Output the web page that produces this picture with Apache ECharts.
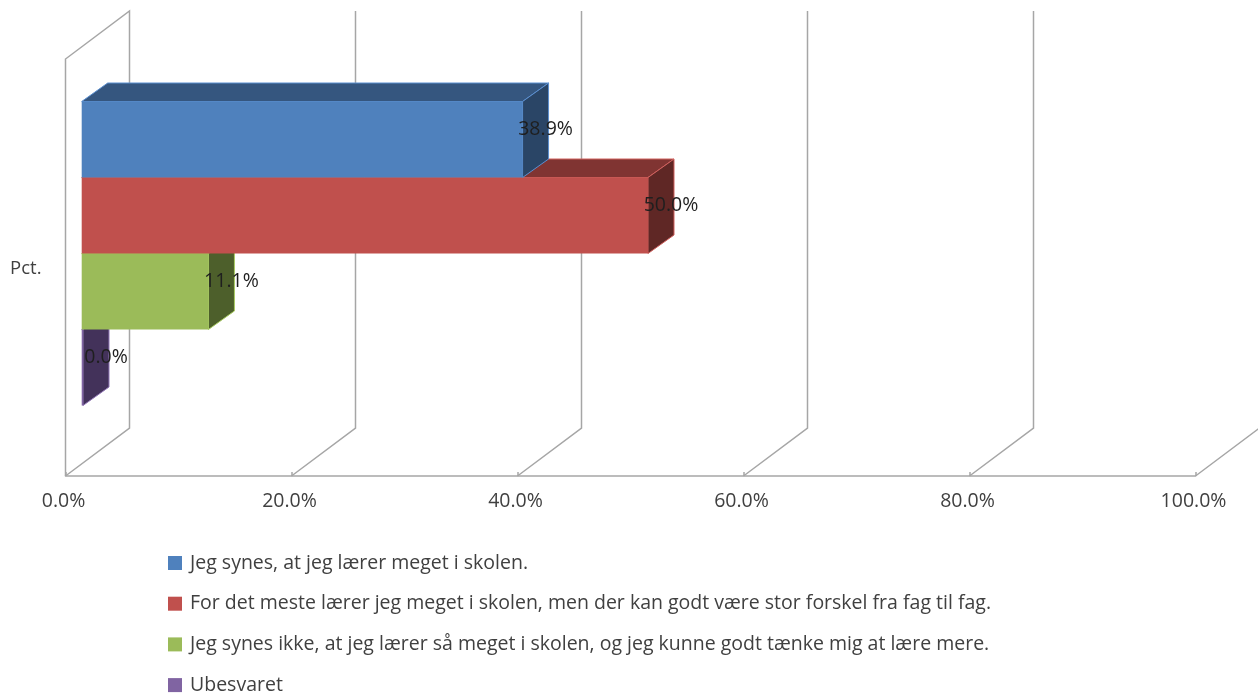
<!DOCTYPE html>
<html><head><meta charset="utf-8">
<style>html,body{margin:0;padding:0;background:#fff}#c{width:1258px;height:697px}</style>
<script src="https://cdn.jsdelivr.net/npm/echarts@6/dist/echarts.min.js"></script>
</head><body><div id="c"></div>
<script>
const categories = ['Pct.'];
const seriesNames = [
  'Jeg synes, at jeg lærer meget i skolen.',
  'For det meste lærer jeg meget i skolen, men der kan godt være stor forskel fra fag til fag.',
  'Jeg synes ikke, at jeg lærer så meget i skolen, og jeg kunne godt tænke mig at lære mere.',
  'Ubesvaret'
];
const seriesValues = [[38.9], [50.0], [11.1], [0.0]];
const tickValues = [0, 20, 40, 60, 80, 100];
const faceColors = ['#4f81bd', '#c0504d', '#9bbb59', '#8064a2'];
const topColors = ['#35567f', '#803432', '#67803a', '#55416f'];
const sideColors = ['#2a4566', '#5f2725', '#4d5f2b', '#43325a'];
const edgeColors = ['#5b8fd0', '#d0605d', '#a9cc62', '#9176b6'];

const FONT = '"Open Sans", "Noto Sans", sans-serif';
const WALL = '#a6a6a6';
const chart = echarts.init(document.getElementById('c'), null, {renderer: 'canvas'});

function wallItem(params, api) {
  const v = api.value(0);
  const base = api.coord([v, 0]);
  const band = api.size([0, 1])[1];
  const x = base[0], yB = base[1] + band / 2, yT = base[1] - band / 2;
  const dx = 64, dy = -48;
  const pts = [[x, yB], [x + dx, yB + dy], [x + dx, yT + dy]];
  if (params.dataIndex === 0) pts.push([x, yT], [x, yB]);
  return {type: 'polyline', shape: {points: pts},
    style: {stroke: WALL, fill: null, lineWidth: 1.5}};
}

function barItem(i) {
  return function (params, api) {
    const v = api.value(0);
    const c0 = api.coord([0, 0]);
    const cv = api.coord([v, 0]);
    const band = api.size([0, 1])[1];
    const h = band * 76 / 417;
    const top = c0[1] - 14 - 2 * h + i * h;
    const x0 = c0[0] + 16.2, x1 = cv[0] + 17.5, y0 = top, y1 = top + h;
    const dx = 26, dy = -18.5;
    const edge = {stroke: edgeColors[i], lineWidth: 1};
    const poly = (pts, fill) => ({type: 'polygon', shape: {points: pts},
      style: Object.assign({fill}, edge)});
    return {type: 'group', children: [
      poly([[x0, y0], [x0 + dx, y0 + dy], [x1 + dx, y0 + dy], [x1, y0]], topColors[i]),
      poly([[x1, y0], [x1 + dx, y0 + dy], [x1 + dx, y1 + dy], [x1, y1]], sideColors[i]),
      {type: 'rect', shape: {x: x0, y: y0, width: x1 - x0, height: h},
        style: {fill: faceColors[i]}},
      {type: 'text', z2: 50,
        style: {text: v.toFixed(1) + '%', x: x1 + 23, y: (y0 + y1) / 2 - 10.5,
          align: 'center', verticalAlign: 'middle',
          fill: '#1f1f1f', font: '19.5px ' + FONT}}
    ]};
  };
}

const series = [{
  type: 'custom', name: 'walls', z: 1, silent: true,
  renderItem: wallItem, encode: {x: 0, y: 1},
  data: tickValues.map(v => [v, 0])
}].concat(seriesNames.map((name, i) => ({
  type: 'custom', name, z: 5 + (seriesNames.length - i),
  itemStyle: {color: faceColors[i]},
  renderItem: barItem(i), encode: {x: 0, y: 1},
  data: seriesValues[i].map((v, k) => [v, k])
})));

chart.setOption({
  animation: false,
  backgroundColor: '#fff',
  grid: {left: 65.5, right: 62.5, top: 59, height: 417, containLabel: false},
  xAxis: {
    type: 'value', min: 0, max: 100, interval: 20,
    splitLine: {show: false},
    axisLine: {show: true, lineStyle: {color: WALL, width: 1.5}},
    axisTick: {show: true, inside: true, length: 4, lineStyle: {color: WALL, width: 1.5}},
    axisLabel: {margin: 15, padding: [0, 4, 0, 0], color: '#404040', fontFamily: FONT, fontSize: 19.5,
      formatter: v => v.toFixed(1) + '%'}
  },
  yAxis: {
    type: 'category', data: categories,
    axisLine: {show: false}, axisTick: {show: false}, splitLine: {show: false},
    axisLabel: {margin: 24, verticalAlign: 'top', lineHeight: 3, color: '#404040', fontFamily: FONT, fontSize: 18.5}
  },
  legend: {
    orient: 'vertical', left: 168, top: 553, height: 144, padding: 0,
    itemWidth: 14, itemHeight: 14, itemGap: 20.7,
    icon: 'rect', selectedMode: false,
    data: seriesNames,
    textStyle: {color: '#404040', fontFamily: FONT, fontSize: 19.5, lineHeight: 14, padding: [0, 0, 0, 3]}
  },
  series
});
</script></body></html>
